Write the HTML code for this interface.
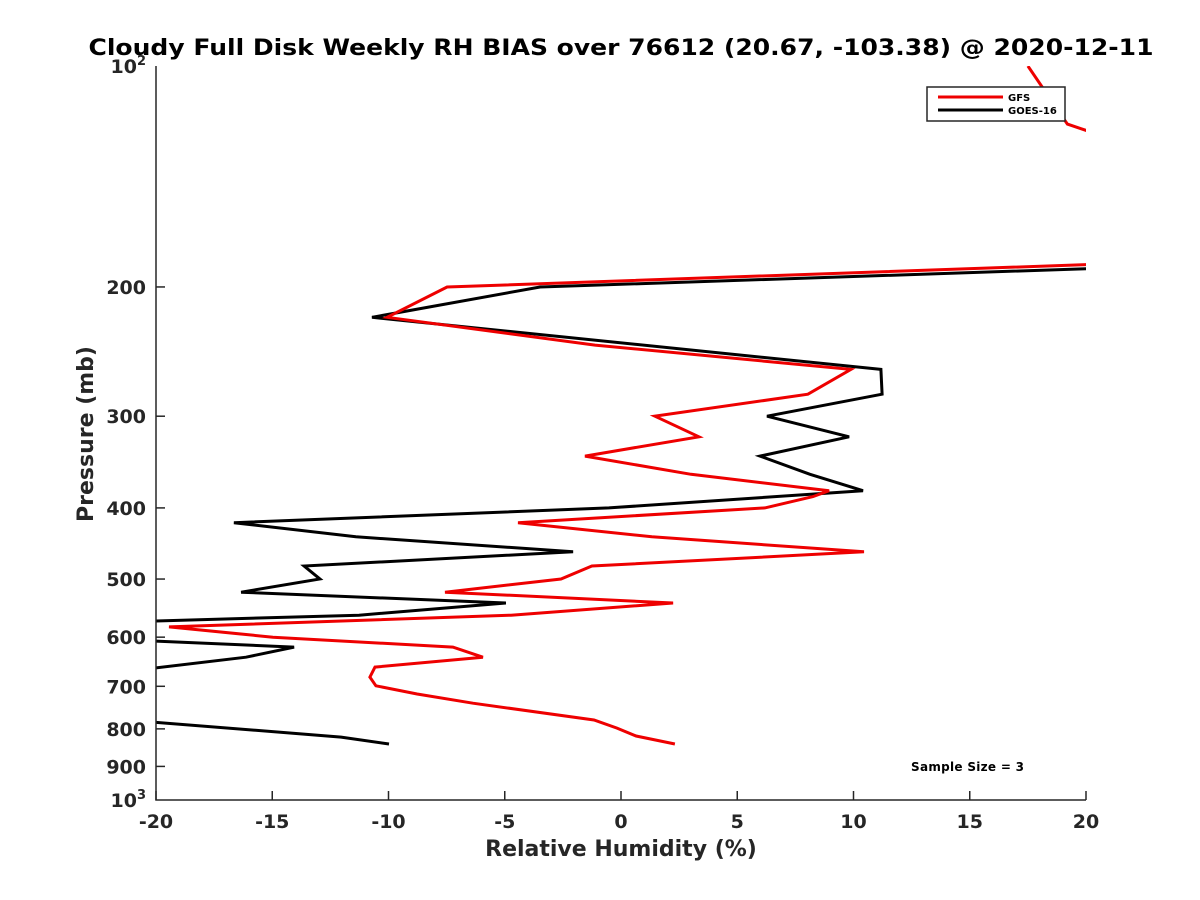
<!DOCTYPE html>
<html><head><meta charset="utf-8"><style>
body{margin:0;background:#fff}
svg{display:block;font-family:"DejaVu Sans","Liberation Sans",sans-serif;font-weight:bold}
</style></head><body>
<svg id="c" width="1200" height="900">
<defs><clipPath id="clip"><rect x="156" y="66" width="930" height="734"/></clipPath></defs>
<text x="621" y="55" text-anchor="middle" font-size="22" textLength="1065" lengthAdjust="spacingAndGlyphs" fill="#000">Cloudy Full Disk Weekly RH BIAS over 76612 (20.67, -103.38) @ 2020-12-11</text>
<g id="plot" clip-path="url(#clip)"></g>
<g id="axes"></g>
<text x="621" y="856" text-anchor="middle" font-size="22" fill="#262626">Relative Humidity (%)</text>
<text transform="translate(93,434) rotate(-90)" text-anchor="middle" font-size="22" fill="#262626">Pressure (mb)</text>
<g>
<rect x="927" y="87" width="138" height="34" fill="#fff" stroke="#262626" stroke-width="1.5"/>
<line x1="938" y1="97" x2="1003" y2="97" stroke="#e00" stroke-width="3"/>
<text x="1008" y="101" font-size="10">GFS</text>
<line x1="938" y1="110" x2="1003" y2="110" stroke="#000" stroke-width="3"/>
<text x="1008" y="114" font-size="10">GOES-16</text>
</g>
<text x="911" y="771" font-size="12" textLength="113">Sample Size = 3</text>
</svg>
<script>
const gfsP=[100,120,127,160,186,200,220,240,259,280,300,320,340,360,379,386,400,419,438,459,480,500,521,539,560,581,600,619,639,659,680,699,717,738,778,798,818,839];
const gfsV=[17.5,19.2,21.5,35,21,-7.48,-10.06,-1.12,9.89,8.04,1.46,3.35,-1.55,3.01,8.95,8.26,6.19,-4.43,1.33,10.45,-1.25,-2.58,-7.57,2.24,-4.73,-19.44,-14.97,-7.23,-5.94,-10.58,-10.8,-10.54,-8.77,-6.37,-1.16,-0.17,0.65,2.32];
const goesP=[188,200,220,259,280,300,320,340,360,379,400,419,438,459,480,500,521,539,560,575,600,619,639,720,760,783,821,839];
const goesV=[22,-3.48,-10.71,11.18,11.23,6.28,9.81,5.98,8.13,10.41,-0.52,-16.65,-11.4,-2.06,-13.63,-12.95,-16.34,-4.95,-11.27,-24,-24,-14.06,-16.13,-30,-30,-20.2,-12.04,-9.98];
const xTicks=[-20,-15,-10,-5,0,5,10,15,20];
const yTicks=[200,300,400,500,600,700,800,900];
const X0=156,X1=1086,Y0=66,Y1=800;
function xs(v){return X0+(v+20)/40*(X1-X0);}
function ys(p){return Y0+(Y1-Y0)*Math.log10(p/100);}
const NS='http://www.w3.org/2000/svg';
const plot=document.getElementById('plot'),axes=document.getElementById('axes');
function mk(t,a,parent){const e=document.createElementNS(NS,t);for(const k in a)e.setAttribute(k,a[k]);parent.appendChild(e);return e;}
function line(P,V,col,name){
  const pts=P.map((p,i)=>xs(V[i]).toFixed(1)+','+ys(p).toFixed(1)).join(' ');
  const e=mk('polyline',{points:pts,fill:'none',stroke:col,'stroke-width':3,'stroke-linejoin':'miter'},plot);
  
  
}
line(goesP,goesV,'#000','goes16-line');
line(gfsP,gfsV,'#e00','gfs-line');
const ax=mk('path',{d:`M${X0},${Y0}V${Y1}H${X1}`,fill:'none',stroke:'#262626','stroke-width':1.5},axes);


xTicks.forEach(v=>{
  const x=xs(v);
  mk('line',{x1:x,y1:Y1,x2:x,y2:Y1-9,stroke:'#262626','stroke-width':1.5},axes);
  const t=mk('text',{x:x,y:828,'text-anchor':'middle','font-size':19,fill:'#262626'},axes);
  t.textContent=v;
  
  
});
yTicks.forEach(p=>{
  const y=ys(p);
  mk('line',{x1:X0,y1:y,x2:X0+9,y2:y,stroke:'#262626','stroke-width':1.5},axes);
  const t=mk('text',{x:X0-10,y:y+7,'text-anchor':'end','font-size':19,fill:'#262626'},axes);
  t.textContent=p;
  
  
});
[[100,'2'],[1000,'3']].forEach(([p,e])=>{
  const y=ys(p);
  const t=mk('text',{x:X0-10,y:y+7,'text-anchor':'end','font-size':19,fill:'#262626'},axes);
  t.innerHTML='10<tspan dy="-8" font-size="13">'+e+'</tspan>';
  
  
});
</script>
</body></html>
